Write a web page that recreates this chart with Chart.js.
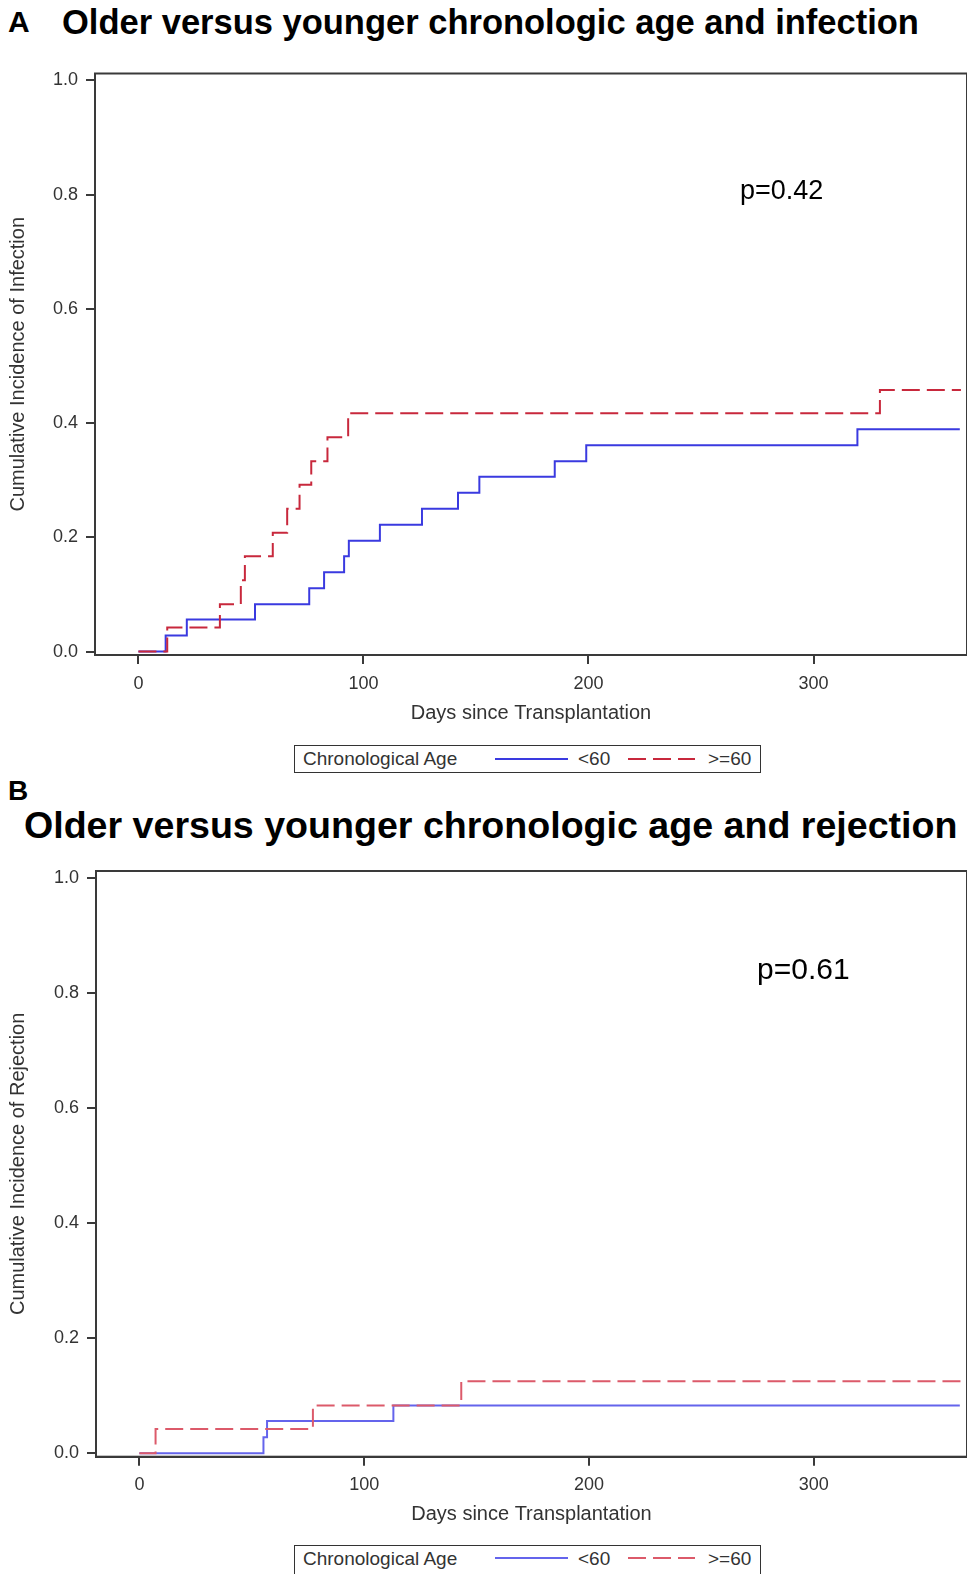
<!DOCTYPE html>
<html><head><meta charset="utf-8">
<script src="https://cdn.jsdelivr.net/npm/chart.js@4.4.1/dist/chart.umd.min.js"></script>
<style>
html,body{margin:0;padding:0;background:#fff;}
body{width:967px;height:1574px;position:relative;overflow:hidden;font-family:"Liberation Sans",Arial,sans-serif;}
.t{position:absolute;white-space:nowrap;line-height:1;color:#000;}
.lt{position:absolute;white-space:nowrap;line-height:1;color:#333;font-size:19px;}
canvas{position:absolute;left:0;}
.leg{position:absolute;border:1.5px solid #333;box-sizing:border-box;background:#fff;}
svg{position:absolute;overflow:visible;}
</style></head><body>
<div class="t" style="left:8px;top:7px;font-size:30px;font-weight:bold;">A</div>
<div class="t" id="titleA" style="left:62px;top:5px;font-size:34.5px;font-weight:bold;">Older versus younger chronologic age and infection</div>
<div class="t" style="left:8px;top:777px;font-size:28px;font-weight:bold;">B</div>
<div class="t" id="titleB" style="left:24px;top:807px;font-size:37.6px;font-weight:bold;">Older versus younger chronologic age and rejection</div>

<canvas id="cA" width="967" height="780" style="top:0px"></canvas>
<canvas id="cB" width="967" height="794" style="top:780px"></canvas>

<div class="t" style="left:740px;top:177px;font-size:27px;">p=0.42</div>
<div class="t" style="left:757px;top:954px;font-size:30px;">p=0.61</div>

<div class="leg" style="left:294px;top:745px;width:467px;height:28px;"></div>
<div class="lt" style="left:303px;top:749px;">Chronological Age</div>
<svg style="left:0;top:0;" width="967" height="1574">
  <line x1="495" y1="759" x2="568" y2="759" stroke="#3a3ae0" stroke-width="2"/>
  <line x1="628" y1="759" x2="695" y2="759" stroke="#c8283c" stroke-width="2" stroke-dasharray="18 7"/>
</svg>
<div class="lt" style="left:578px;top:749px;">&lt;60</div>
<div class="lt" style="left:708px;top:749px;">&gt;=60</div>

<div class="leg" style="left:294px;top:1545px;width:467px;height:32px;"></div>
<div class="lt" style="left:303px;top:1549px;">Chronological Age</div>
<svg style="left:0;top:0;" width="967" height="1574">
  <line x1="495" y1="1558" x2="568" y2="1558" stroke="#6464ec" stroke-width="2"/>
  <line x1="628" y1="1558" x2="695" y2="1558" stroke="#dc5a6a" stroke-width="2" stroke-dasharray="18 7"/>
</svg>
<div class="lt" style="left:578px;top:1549px;">&lt;60</div>
<div class="lt" style="left:708px;top:1549px;">&gt;=60</div>

<script>
// ---- data ----
const seriesLabels = ['<60', '>=60'];
const xTicks = [0, 100, 200, 300];
const xTickLabels = ['0', '100', '200', '300'];
const yTicks = [0, 0.2, 0.4, 0.6, 0.8, 1.0];
const yTickLabels = ['0.0', '0.2', '0.4', '0.6', '0.8', '1.0'];

// Panel A: infection
const infDaysLt60 = [0, 12.1, 21.5, 51.8, 75.9, 82.5, 91.4, 93.5, 107.3, 126, 142, 151.5, 185, 199, 319.5, 365];
const infCILt60   = [0, 0.028, 0.056, 0.083, 0.111, 0.139, 0.167, 0.194, 0.222, 0.25, 0.278, 0.306, 0.333, 0.361, 0.389, 0.389];
const infDaysGe60 = [0, 12.8, 36.2, 45.5, 47.3, 59.7, 66.1, 71.6, 76.8, 84, 93.2, 329.5, 365.5];
const infCIGe60   = [0, 0.042, 0.083, 0.125, 0.167, 0.208, 0.25, 0.292, 0.333, 0.375, 0.417, 0.458, 0.458];

// Panel B: rejection
const rejDaysLt60 = [0, 55.2, 56.8, 113, 365];
const rejCILt60   = [0, 0.028, 0.056, 0.083, 0.083];
const rejDaysGe60 = [0, 7.2, 77.2, 143.2, 365.5];
const rejCIGe60   = [0, 0.042, 0.083, 0.125, 0.125];

const pts = (xs, ys) => xs.map((x, i) => ({x: x, y: ys[i]}));

const frame = {
  id: 'frame',
  afterDatasetsDraw(chart) {
    const {ctx, chartArea: a} = chart;
    ctx.save();
    ctx.strokeStyle = '#3a3a3a';
    ctx.lineWidth = 2;
    ctx.strokeRect(a.left, a.top, a.right - a.left, a.bottom - a.top);
    ctx.restore();
  }
};

function makeChart(id, yTitle, dLt, yLt, dGe, yGe, blue, red, pad, yWidth) {
  new Chart(document.getElementById(id), {
    type: 'scatter',
    data: {
      datasets: [
        {label: seriesLabels[0], data: pts(dLt, yLt), showLine: true, stepped: 'before',
         borderColor: blue, borderWidth: 2, pointRadius: 0, order: 1},
        {label: seriesLabels[1], data: pts(dGe, yGe), showLine: true, stepped: 'before',
         borderColor: red, borderWidth: 2, borderDash: [18, 7], pointRadius: 0, order: 0}
      ]
    },
    options: {
      responsive: false,
      animation: false,
      layout: {padding: pad},
      plugins: {legend: {display: false}, tooltip: {enabled: false}},
      scales: {
        x: {
          type: 'linear', min: -19.3, max: 368.2,
          afterBuildTicks: s => { s.ticks = xTicks.map(v => ({value: v})); },
          afterFit: s => { s.height = 70; },
          ticks: {callback: (v, i) => xTickLabels[i], color: '#333', padding: 9,
                  font: {family: 'Liberation Sans', size: 18}, maxRotation: 0},
          grid: {drawOnChartArea: false, drawTicks: true, tickLength: 9, color: '#3a3a3a', lineWidth: 2},
          border: {display: true, color: '#3a3a3a', width: 2},
          title: {display: true, text: 'Days since Transplantation', color: '#333',
                  font: {family: 'Liberation Sans', size: 20}, padding: {top: 0, bottom: 0}}
        },
        y: {
          type: 'linear', min: -0.006, max: 1.012,
          afterBuildTicks: s => { s.ticks = yTicks.map(v => ({value: v})); },
          afterFit: s => { s.width = yWidth; },
          ticks: {callback: (v, i) => yTickLabels[i], color: '#333', padding: 8,
                  font: {family: 'Liberation Sans', size: 18}},
          grid: {drawOnChartArea: false, drawTicks: true, tickLength: 9, color: '#3a3a3a', lineWidth: 2},
          border: {display: true, color: '#3a3a3a', width: 2},
          title: {display: true, text: yTitle, color: '#333',
                  font: {family: 'Liberation Sans', size: 20}, padding: {top: 6, bottom: 0}}
        }
      }
    },
    plugins: [frame]
  });
}

makeChart('cA', 'Cumulative Incidence of Infection', infDaysLt60, infCILt60, infDaysGe60, infCIGe60,
  '#3a3ae0', '#c8283c', {top: 73.5, right: 0, bottom: 55, left: 0}, 95);
makeChart('cB', 'Cumulative Incidence of Rejection', rejDaysLt60, rejCILt60, rejDaysGe60, rejCIGe60,
  '#6464ec', '#dc5a6a', {top: 91, right: 0, bottom: 47.3, left: 0}, 96);
</script>
</body></html>
